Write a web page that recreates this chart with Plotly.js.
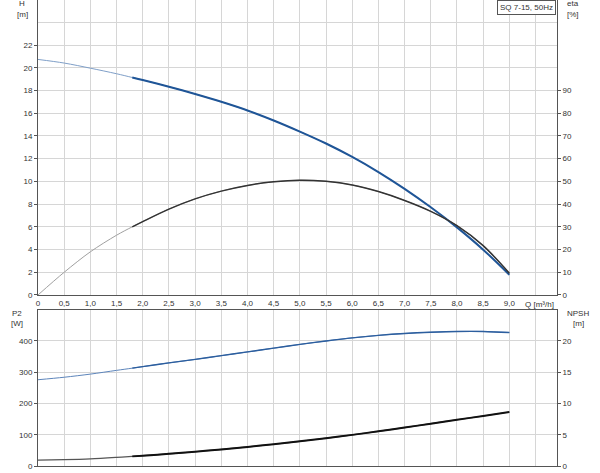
<!DOCTYPE html>
<html>
<head>
<meta charset="utf-8">
<script src="https://cdn.plot.ly/plotly-3.0.1.min.js"></script>
<style>html,body{margin:0;padding:0;background:#fff;}#chart{width:600px;height:473px;}</style>
</head>
<body>
<div id="chart"></div>
<script>
// Flow rate Q [m³/h]
const Q    = [0, 0.5, 1.0, 1.5, 1.8, 2.0, 2.5, 3.0, 3.5, 4.0, 4.5, 5.0, 5.5, 6.0, 6.5, 7.0, 7.5, 8.0, 8.5, 9.0];
// Head H [m]
const H    = [20.73, 20.41, 19.96, 19.47, 19.14, 18.92, 18.33, 17.69, 17.0, 16.24, 15.36, 14.38, 13.33, 12.15, 10.82, 9.34, 7.72, 5.95, 3.99, 1.78];
// Efficiency eta [%]
const ETA  = [0, 10, 19, 26.3, 30.0, 32.3, 37.8, 42.3, 45.7, 48.2, 49.8, 50.5, 50.0, 48.4, 45.5, 41.6, 36.8, 30.5, 21.7, 9.6];
// Power P2 [W]
const P2   = [276, 284, 294, 306, 313, 318, 330, 341, 353, 365, 377, 389, 400, 410, 418, 424, 428, 430.5, 430.5, 427];
// NPSH [m]
const NPSH = [0.95, 1.02, 1.15, 1.38, 1.54, 1.65, 1.95, 2.28, 2.65, 3.05, 3.48, 3.95, 4.45, 4.98, 5.55, 6.15, 6.77, 7.4, 8.0, 8.64];

const xTickVals = [0,0.5,1,1.5,2,2.5,3,3.5,4,4.5,5,5.5,6,6.5,7,7.5,8,8.5,9];
const xTickText = ["0","0,5","1,0","1,5","2,0","2,5","3,0","3,5","4,0","4,5","5,0","5,5","6,0","6,5","7,0","7,5","8,0","8,5","9,0"];
const hTicks    = [0,2,4,6,8,10,12,14,16,18,20,22];
const etaTicks  = [0,10,20,30,40,50,60,70,80,90];
const p2Ticks   = [0,100,200,300,400];
const npshTicks = [0,5,10,15,20];
const curveLabel = "SQ 7-15, 50Hz";

const dutyStart = 4; // index where the operating (thick) range begins
const sl = (a) => a.slice(dutyStart);

const font = {family: "Liberation Sans, Arial, sans-serif", size: 8, color: "#333"};
const GRID = "#d6d6d6";
const LINE = "#555";
const SM = 0.9;

const traces = [
  {x: Q, y: H, xaxis: "x", yaxis: "y", mode: "lines", line: {color: "#7f9fc8", width: 1, shape: "spline", smoothing: SM}},
  {x: sl(Q), y: sl(H), xaxis: "x", yaxis: "y", mode: "lines", line: {color: "#1f5597", width: 2, shape: "spline", smoothing: SM}},
  {x: Q, y: ETA, xaxis: "x", yaxis: "y2", mode: "lines", line: {color: "#a0a0a0", width: 1, shape: "spline", smoothing: SM}},
  {x: sl(Q), y: sl(ETA), xaxis: "x", yaxis: "y2", mode: "lines", line: {color: "#333", width: 1.5, shape: "spline", smoothing: SM}},
  {x: Q, y: P2, xaxis: "x2", yaxis: "y3", mode: "lines", line: {color: "#5d85bb", width: 1, shape: "spline", smoothing: SM}},
  {x: sl(Q), y: sl(P2), xaxis: "x2", yaxis: "y3", mode: "lines", line: {color: "#2c5e9e", width: 1.4, shape: "spline", smoothing: SM}},
  {x: Q, y: NPSH, xaxis: "x2", yaxis: "y4", mode: "lines", line: {color: "#555", width: 1.2, shape: "spline", smoothing: SM}},
  {x: sl(Q), y: sl(NPSH), xaxis: "x2", yaxis: "y4", mode: "lines", line: {color: "#111", width: 2, shape: "spline", smoothing: SM}}
];

const px = (p) => (p - 38) / 519;
const py = (p) => (466 - p) / 466;

const ann = (text, x, y, extra) => Object.assign({text: text, x: px(x), y: py(y), xref: "paper", yref: "paper", showarrow: false, xanchor: "center", yanchor: "middle", font: font}, extra || {});

const layout = {
  width: 600, height: 473,
  margin: {l: 38, r: 43, t: 0, b: 7},
  paper_bgcolor: "#fff", plot_bgcolor: "#fff",
  showlegend: false,
  font: font,
  xaxis: {domain: [0, 1], anchor: "y", range: [0, 9.91], tickmode: "array", tickvals: xTickVals, ticktext: xTickText,
          ticks: "", showgrid: true, gridcolor: GRID, zeroline: false, showline: true, linecolor: LINE, linewidth: 1,
          tickfont: font, minor: {tickmode: "array", tickvals: [9.5], showgrid: true, gridcolor: GRID, ticks: ""}},
  yaxis: {domain: [0.367, 1], anchor: "x", range: [0, 25.96], tickmode: "array", tickvals: hTicks,
          ticks: "outside", ticklen: 3, tickcolor: LINE, showgrid: true, gridcolor: GRID, zeroline: false,
          showline: true, linecolor: LINE, tickfont: font,
          minor: {tickmode: "array", tickvals: [24], showgrid: true, gridcolor: GRID, ticks: ""}},
  yaxis2: {overlaying: "y", side: "right", anchor: "x", range: [0, 129.8], tickmode: "array", tickvals: etaTicks,
           ticks: "outside", ticklen: 3, tickcolor: LINE, showgrid: false, zeroline: false, showline: true, linecolor: LINE, tickfont: font},
  xaxis2: {domain: [0, 1], anchor: "y3", range: [0, 9.91], tickmode: "array", tickvals: xTickVals.concat([9.5]),
           showticklabels: false, ticks: "", showgrid: true, gridcolor: GRID, zeroline: false,
           showline: true, mirror: true, linecolor: LINE},
  yaxis3: {domain: [0, 0.3348], anchor: "x2", range: [0, 499.2], tickmode: "array", tickvals: p2Ticks,
           ticks: "outside", ticklen: 3, tickcolor: LINE, showgrid: true, gridcolor: GRID, zeroline: false,
           showline: true, linecolor: LINE, tickfont: font},
  yaxis4: {overlaying: "y3", side: "right", anchor: "x2", range: [0, 24.96], tickmode: "array", tickvals: npshTicks,
           ticks: "outside", ticklen: 3, tickcolor: LINE, showgrid: false, zeroline: false, showline: true, linecolor: LINE, tickfont: font},
  annotations: [
    ann("H", 22, 4), ann("[m]", 22, 14),
    ann("eta", 573, 4), ann("[%]", 573, 14),
    ann("P2", 17, 313), ann("[W]", 17, 323),
    ann("NPSH", 578, 313), ann("[m]", 578, 323),
    ann("Q [m³/h]", 539, 304),
    ann(curveLabel, 526, 7.5, {bgcolor: "#fff", bordercolor: LINE, borderwidth: 1, borderpad: 2})
  ]
};

Plotly.newPlot("chart", traces, layout, {staticPlot: true, displayModeBar: false});
</script>
</body>
</html>
